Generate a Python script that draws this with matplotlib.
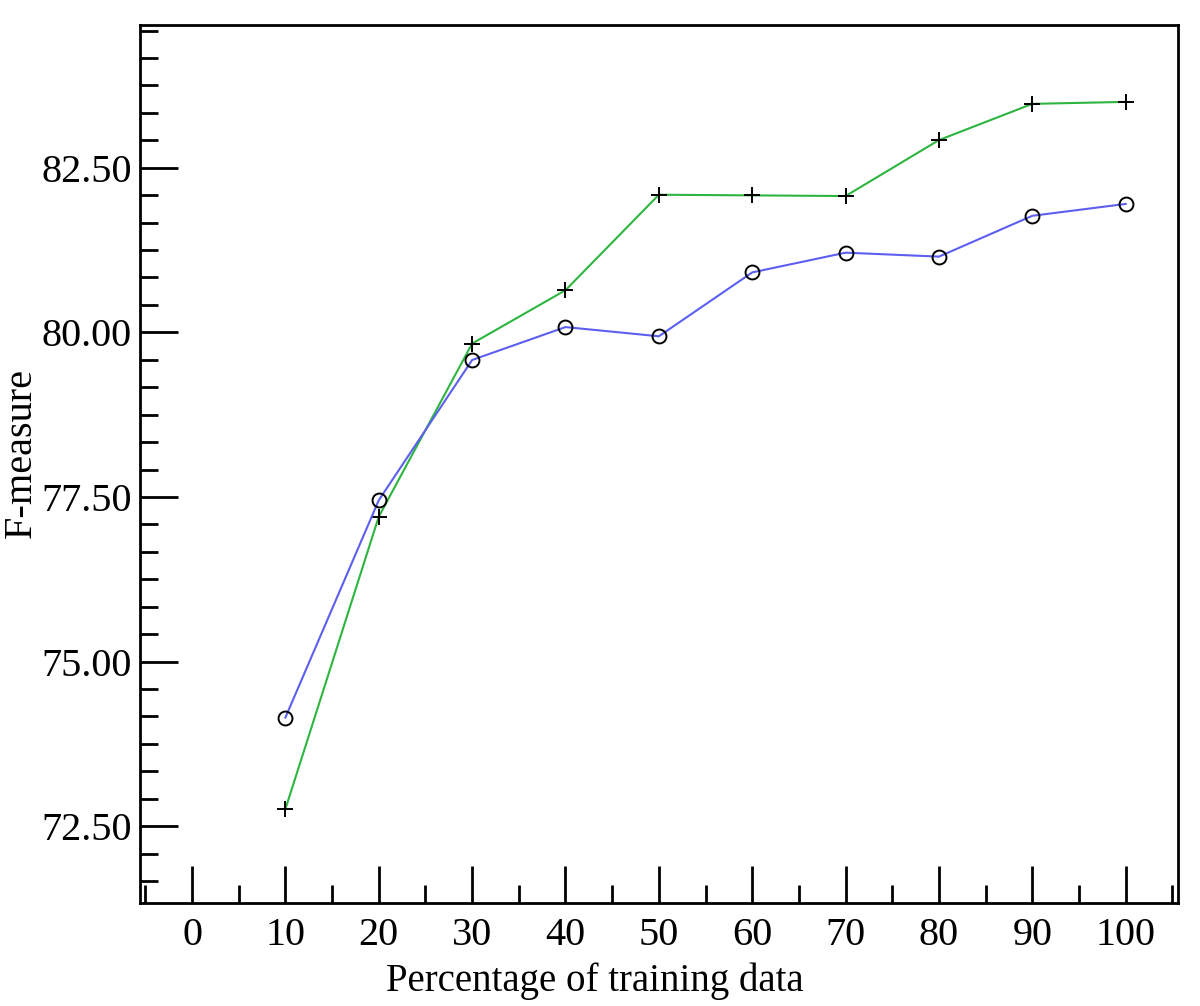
import matplotlib.pyplot as plt
from matplotlib.ticker import MultipleLocator, FormatStrFormatter

plt.rcParams['font.family'] = ['Liberation Serif', 'DejaVu Serif']

# percentage of training data
pct = [10, 20, 30, 40, 50, 60, 70, 80, 90, 100]
# F-measure, '+' series (green) and 'o' series (blue)
f_plus = [72.76, 77.20, 79.83, 80.64, 82.09, 82.08, 82.07, 82.92, 83.47, 83.50]
f_circ = [74.15, 77.45, 79.58, 80.08, 79.94, 80.91, 81.21, 81.15, 81.77, 81.95]

fig = plt.figure(figsize=(12, 10.06), dpi=100)
ax = fig.add_axes([0.1167, 0.1024, 0.8647, 0.8727])

ax.plot(pct, f_plus, color='#2db540', lw=1.5, marker='+', ms=12, mec='black', mew=1.4)
ax.plot(pct, f_circ, color='#5c5ff0', lw=1.5, marker='o', ms=10, mfc='none', mec='black', mew=1.4)

ax.set_xlim(-5.57, 105.57)
ax.set_ylim(71.333, 84.667)
ax.xaxis.set_major_locator(MultipleLocator(10))
ax.xaxis.set_minor_locator(MultipleLocator(5))
ax.yaxis.set_major_locator(MultipleLocator(2.5))
ax.yaxis.set_minor_locator(MultipleLocator(2.5 / 6))
ax.yaxis.set_major_formatter(FormatStrFormatter('%.2f'))

ax.tick_params(which='both', direction='in', top=False, right=False, width=2, labelsize=29)
ax.tick_params(which='major', length=27)
ax.tick_params(which='minor', length=13)
ax.tick_params(axis='x', pad=10)
ax.tick_params(axis='y', pad=6)
for s in ax.spines.values():
    s.set_linewidth(2)

ax.set_xlabel('Percentage of training data', fontsize=28)
ax.set_ylabel('F-measure', fontsize=29)
ax.xaxis.set_label_coords(0.4385, -0.068)
ax.yaxis.set_label_coords(-0.097, 0.512)

fig.savefig('out.png')
